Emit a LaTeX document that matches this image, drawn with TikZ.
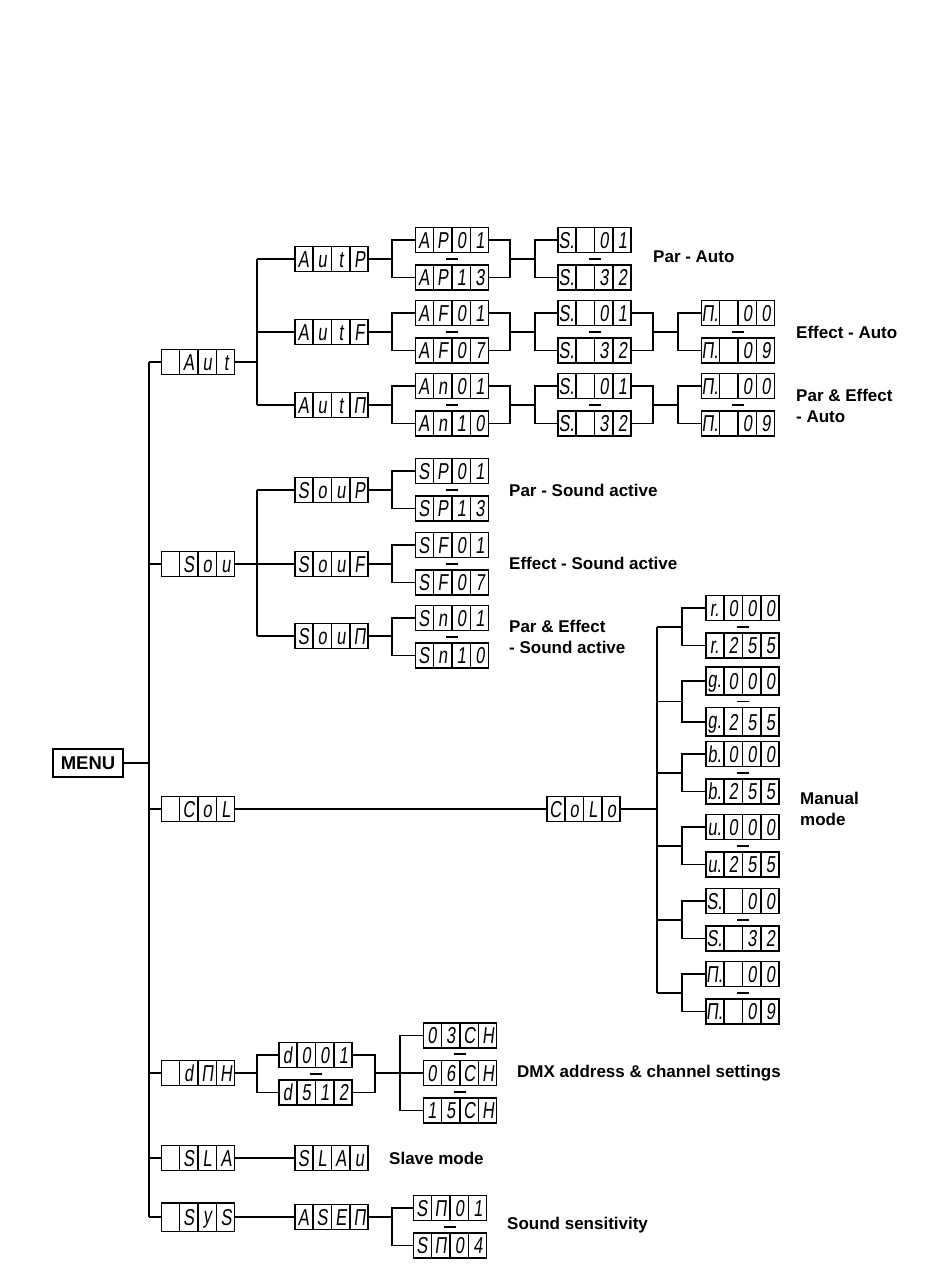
\documentclass[tikz,border=0pt]{standalone}
\usepackage{fontspec}
\setmainfont{Liberation Sans}
\newfontfamily\segfont[FakeStretch=0.72,FakeSlant=0.12]{Liberation Sans}
\usetikzlibrary{calc,shapes.multipart,positioning}

\newcommand{\sg}[1]{\makebox[15.4pt]{\segfont\fontsize{23}{23}\selectfont\rule[-1.3pt]{0pt}{19pt}#1}}
\newcommand{\disp}[4]{\sg{#1}\nodepart{two}\sg{#2}\nodepart{three}\sg{#3}\nodepart{four}\sg{#4}}

\tikzset{
	display/.style={
		draw, line width=1.5pt, rectangle split,
		rectangle split parts=4, rectangle split horizontal,
		inner xsep=0.9pt, inner ysep=3pt
	},
	menubox/.style={
		draw, line width=1.6pt, minimum width=70pt, minimum height=28pt,
		inner sep=0pt, font=\bfseries\fontsize{18.5}{20}\selectfont
	},
	wire/.style={line width=1.5pt},
	pairdash/.style={line width=1.9pt},
	caption/.style={anchor=west, align=left, inner sep=0pt, font=\bfseries\fontsize{17}{21.5}\selectfont}
}

\begin{document}
\begin{tikzpicture}[x=1pt,y=-1pt]
	\useasboundingbox (0,0) rectangle (950,1284);
	% columns of the tree
	\coordinate (trunk) at (149,0);
	\coordinate (fork) at (257,0);
	\coordinate (split) at (392,0);
	\coordinate (merge) at (510,0);
	\coordinate (split2) at (535,0);
	\coordinate (merge2) at (653,0);
	\coordinate (split3) at (678,0);
	\coordinate (coltrunk) at (657,0);
	\coordinate (colsplit) at (682,0);
	\coordinate (dmxmerge) at (375,0);
	\coordinate (dmxsplit) at (400,0);

	\node[menubox] (menu) at (88,763) {MENU};

	% auto
	\node[display] (aut) at (198,362) {\disp{}{A}{u}{t}};
	\node[display] (autp) at (331.5,259) {\disp{A}{u}{t}{P}};
	\node[display] (autf) at (331.5,332) {\disp{A}{u}{t}{F}};
	\node[display] (autm) at (331.5,405) {\disp{A}{u}{t}{Π}};
	\node[display] (ap01) at (452,240) {\disp{A}{P}{0}{1}};
	\node[display] (ap13) [below=11pt of ap01] {\disp{A}{P}{1}{3}};
	\node[display] (af01) at (452,313) {\disp{A}{F}{0}{1}};
	\node[display] (af07) [below=11pt of af01] {\disp{A}{F}{0}{7}};
	\node[display] (an01) at (452,386) {\disp{A}{n}{0}{1}};
	\node[display] (an10) [below=11pt of an01] {\disp{A}{n}{1}{0}};
	\node[display] (ps01) at (594.5,240) {\disp{S.}{}{0}{1}};
	\node[display] (ps32) [below=11pt of ps01] {\disp{S.}{}{3}{2}};
	\node[display] (fs01) at (594.5,313) {\disp{S.}{}{0}{1}};
	\node[display] (fs32) [below=11pt of fs01] {\disp{S.}{}{3}{2}};
	\node[display] (ms01) at (594.5,386) {\disp{S.}{}{0}{1}};
	\node[display] (ms32) [below=11pt of ms01] {\disp{S.}{}{3}{2}};
	\node[display] (fm00) at (738,313) {\disp{Π.}{}{0}{0}};
	\node[display] (fm09) [below=11pt of fm00] {\disp{Π.}{}{0}{9}};
	\node[display] (mm00) at (738,386) {\disp{Π.}{}{0}{0}};
	\node[display] (mm09) [below=11pt of mm00] {\disp{Π.}{}{0}{9}};
	\node[caption] (capparauto) at (653,257) {Par - Auto};
	\node[caption] (capeffauto) at (796,332) {Effect - Auto};
	\node[caption] (capmixauto) at (796,406) {Par \& Effect\\- Auto};

	% sound
	\node[display] (sou) at (198,564) {\disp{}{S}{o}{u}};
	\node[display] (soup) at (331.5,490) {\disp{S}{o}{u}{P}};
	\node[display] (souf) at (331.5,564) {\disp{S}{o}{u}{F}};
	\node[display] (soum) at (331.5,636) {\disp{S}{o}{u}{Π}};
	\node[display] (sp01) at (452,471) {\disp{S}{P}{0}{1}};
	\node[display] (sp13) [below=11pt of sp01] {\disp{S}{P}{1}{3}};
	\node[display] (sf01) at (452,545) {\disp{S}{F}{0}{1}};
	\node[display] (sf07) [below=11pt of sf01] {\disp{S}{F}{0}{7}};
	\node[display] (sn01) at (452,618) {\disp{S}{n}{0}{1}};
	\node[display] (sn10) [below=11pt of sn01] {\disp{S}{n}{1}{0}};
	\node[caption] (capparsound) at (509,490) {Par - Sound active};
	\node[caption] (capeffsound) at (509,563) {Effect - Sound active};
	\node[caption] (capmixsound) at (509,637) {Par \& Effect\\- Sound active};

	% colour
	\node[display] (col) at (198,809) {\disp{}{C}{o}{L}};
	\node[display] (colo) at (583.5,809) {\disp{C}{o}{L}{o}};
	\node[display] (r000) at (742.5,608) {\disp{r.}{0}{0}{0}};
	\node[display] (r255) [below=11pt of r000] {\disp{r.}{2}{5}{5}};
	\node[display] (g000) at (742.5,681) {\disp{g.}{0}{0}{0}};
	\node[display] (g255) [below=11pt of g000] {\disp{g.}{2}{5}{5}};
	\node[display] (b000) at (742.5,754) {\disp{b.}{0}{0}{0}};
	\node[display] (b255) [below=11pt of b000] {\disp{b.}{2}{5}{5}};
	\node[display] (u000) at (742.5,827) {\disp{u.}{0}{0}{0}};
	\node[display] (u255) [below=11pt of u000] {\disp{u.}{2}{5}{5}};
	\node[display] (s00) at (742.5,901) {\disp{S.}{}{0}{0}};
	\node[display] (s32) [below=11pt of s00] {\disp{S.}{}{3}{2}};
	\node[display] (m00) at (742.5,974) {\disp{Π.}{}{0}{0}};
	\node[display] (m09) [below=11pt of m00] {\disp{Π.}{}{0}{9}};
	\node[caption] (capmanual) at (800,809) {Manual\\mode};

	% dmx
	\node[display] (dmx) at (198,1073) {\disp{}{d}{Π}{H}};
	\node[display] (d001) at (315.5,1055) {\disp{d}{0}{0}{1}};
	\node[display] (d512) [below=11pt of d001] {\disp{d}{5}{1}{2}};
	\node[display] (ch06) at (460,1073) {\disp{0}{6}{C}{H}};
	\node[display] (ch03) [above=11pt of ch06] {\disp{0}{3}{C}{H}};
	\node[display] (ch15) [below=11pt of ch06] {\disp{1}{5}{C}{H}};
	\node[caption] (capdmx) at (517,1073) {DMX address \& channel settings};

	% slave and system
	\node[display] (sla) at (198,1158) {\disp{}{S}{L}{A}};
	\node[display] (slau) at (331.5,1158) {\disp{S}{L}{A}{u}};
	\node[caption] (capslave) at (389,1158) {Slave mode};
	\node[display] (sys) at (198,1217) {\disp{}{S}{y}{S}};
	\node[display] (asen) at (331.5,1217) {\disp{A}{S}{E}{Π}};
	\node[display] (sm01) at (450,1208) {\disp{S}{Π}{0}{1}};
	\node[display] (sm04) [below=11pt of sm01] {\disp{S}{Π}{0}{4}};
	\node[caption] (capsens) at (507,1225) {Sound sensitivity};

	% menu trunk
	\draw[wire] (menu) -- (trunk |- menu);
	\draw[wire] (trunk |- aut) -- (trunk |- sys);
	\foreach \n in {aut,sou,col,dmx,sla,sys}
		\draw[wire] (trunk |- \n) -- (\n);

	% second level
	\foreach \p/\a/\b/\c in {aut/autp/autf/autm, sou/soup/souf/soum} {
		\draw[wire] (\p) -- (fork |- \p);
		\draw[wire] (fork |- \a) -- (fork |- \c);
		\foreach \n in {\a,\b,\c}
			\draw[wire] (fork |- \n) -- (\n);
	}

	% ranges
	\foreach \p/\a/\b in {autp/ap01/ap13, autf/af01/af07, autm/an01/an10, soup/sp01/sp13, souf/sf01/sf07, soum/sn01/sn10, asen/sm01/sm04}
		\draw[wire] (\p) -- (split |- \p) (\a) -| (split |- \p) |- (\b);
	\foreach \a/\b/\c/\d in {ap01/ap13/ps01/ps32, af01/af07/fs01/fs32, an01/an10/ms01/ms32} {
		\draw[wire] (\a) -- (merge |- \a) -- (merge |- \b) -- (\b);
		\draw[wire] ($(merge |- \a)!.5!(merge |- \b)$) -- ($(split2 |- \a)!.5!(split2 |- \b)$);
		\draw[wire] (\c) -- (split2 |- \c) -- (split2 |- \d) -- (\d);
	}
	\foreach \a/\b/\c/\d in {fs01/fs32/fm00/fm09, ms01/ms32/mm00/mm09} {
		\draw[wire] (\a) -- (merge2 |- \a) -- (merge2 |- \b) -- (\b);
		\draw[wire] ($(merge2 |- \a)!.5!(merge2 |- \b)$) -- ($(split3 |- \a)!.5!(split3 |- \b)$);
		\draw[wire] (\c) -- (split3 |- \c) -- (split3 |- \d) -- (\d);
	}

	% colour tree
	\draw[wire] (col) -- (colo);
	\draw[wire] (colo) -- (coltrunk |- colo);
	\draw[wire] ($(coltrunk |- r000)!.5!(coltrunk |- r255)$) -- ($(coltrunk |- m00)!.5!(coltrunk |- m09)$);
	\foreach \a/\b in {r000/r255, g000/g255, b000/b255, u000/u255, s00/s32, m00/m09} {
		\draw[wire] ($(coltrunk |- \a)!.5!(coltrunk |- \b)$) -- ($(colsplit |- \a)!.5!(colsplit |- \b)$);
		\draw[wire] (\a) -- (colsplit |- \a) -- (colsplit |- \b) -- (\b);
	}

	% dmx tree
	\draw[wire] (dmx) -- (fork |- dmx);
	\draw[wire] (d001) -| (fork |- dmx) |- (d512);
	\draw[wire] (d001) -- (dmxmerge |- d001) -- (dmxmerge |- d512) -- (d512);
	\draw[wire] (dmxmerge |- ch06) -- (ch06);
	\draw[wire] (ch03) -| (dmxsplit |- ch06) |- (ch15);

	\draw[wire] (sla) -- (slau);
	\draw[wire] (sys) -- (asen);

	% range dashes
	\foreach \a/\b in {ap01/ap13, af01/af07, an01/an10, ps01/ps32, fs01/fs32, ms01/ms32, fm00/fm09, mm00/mm09, sp01/sp13, sf01/sf07, sn01/sn10, r000/r255, g000/g255, b000/b255, u000/u255, s00/s32, m00/m09, d001/d512, ch03/ch06, ch06/ch15, sm01/sm04}
		\draw[pairdash] ($(\a.south)!.5!(\b.north)$) ++(-6,0) -- ++(12,0);
\end{tikzpicture}
\end{document}
